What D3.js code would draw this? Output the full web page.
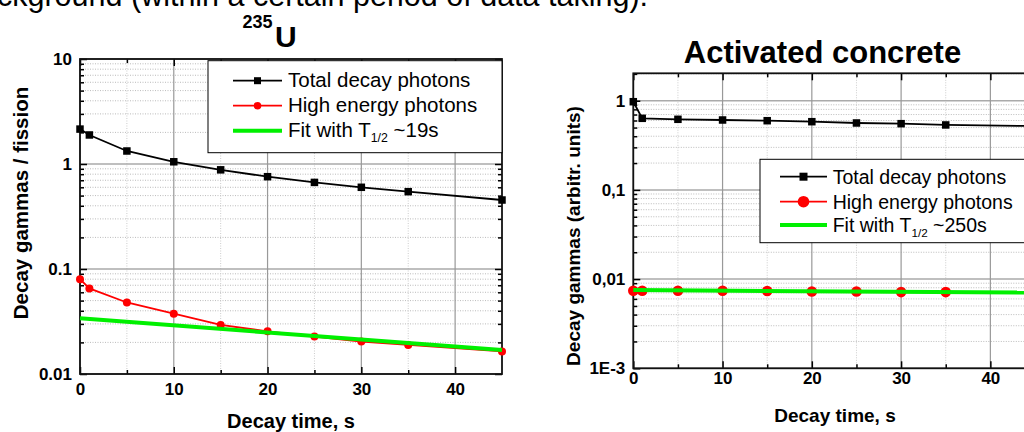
<!DOCTYPE html>
<html>
<head>
<meta charset="utf-8">
<script src="https://cdn.jsdelivr.net/npm/d3@7.9.0/dist/d3.min.js"></script>
<style>
  body { margin: 0; background: #fff; }
  svg { display: block; font-family: Arial, "Liberation Sans", sans-serif; }
</style>
</head>
<body>
<svg id="chart" width="1024" height="432"></svg>
<script>
// ---- data ----
const timeU = [0, 1, 5, 10, 15, 20, 25, 30, 35, 45];
const totalU = [2.15, 1.89, 1.33, 1.05, 0.88, 0.757, 0.668, 0.60, 0.545, 0.454];
const highU = [0.080, 0.0653, 0.048, 0.0375, 0.0293, 0.0255, 0.0227, 0.0204, 0.0189, 0.0164];
const fitTimeU = [0, 45];
const fitU = [0.0339, 0.0169];

const timeC = [0, 1, 5, 10, 15, 20, 25, 30, 35, 45];
const totalC = [0.975, 0.635, 0.619, 0.608, 0.597, 0.582, 0.563, 0.553, 0.535, 0.52];
const highC = [0.0074, 0.0074, 0.0074, 0.0074, 0.00735, 0.00727, 0.00727, 0.00715, 0.00715, 0.0071];
const fitTimeC = [0, 45];
const fitC = [0.00753, 0.00706];

const xTicks = [0, 10, 20, 30, 40];
const xMinorTicks = [5, 15, 25, 35];
const yTicksU = [10, 1, 0.1, 0.01];
const yLabelsU = ["10", "1", "0.1", "0.01"];
const yTicksC = [1, 0.1, 0.01, 0.001];
const yLabelsC = ["1", "0,1", "0,01", "1E-3"];
const legendLabels = ["Total decay photons", "High energy photons", "Fit with T"];

const svg = d3.select("#chart");
const green = "#00f000";

// heading line cut off at the top of the picture
svg.append("text").attr("x", -3).attr("y", 6)
  .attr("font-size", 30.5)
  .text("ckground (within a certain period of data taking):");

function drawPanel(p) {
  const x = d3.scaleLinear().domain([0, 45]).range(p.xr);
  const y = d3.scaleLog().domain(p.yd).range(p.yr);
  const g = svg.append("g");
  const [x0, x1] = p.xr, [y0, y1] = p.yr;

  // minor values of the log axis
  const minors = [];
  p.yTicks.forEach(d => {
    for (let k = 2; k <= 9; k++) {
      const v = d * k;
      if (v > p.yd[0] && v < p.yd[1]) minors.push(v);
    }
  });

  // grid
  g.selectAll(".hmin").data(minors).join("line")
    .attr("x1", x0).attr("x2", x1).attr("y1", d => y(d)).attr("y2", d => y(d))
    .attr("stroke", "#bbb").attr("stroke-width", 1).attr("stroke-dasharray", "1,1.5");
  g.selectAll(".vmin").data(xMinorTicks).join("line")
    .attr("x1", d => x(d)).attr("x2", d => x(d)).attr("y1", y0).attr("y2", y1)
    .attr("stroke", "#ccc").attr("stroke-width", 1).attr("stroke-dasharray", "1,1.5");
  g.selectAll(".hmaj").data(p.yTicks).join("line")
    .attr("x1", x0).attr("x2", x1).attr("y1", d => y(d)).attr("y2", d => y(d))
    .attr("stroke", "#aaa").attr("stroke-width", 1.5);
  g.selectAll(".vmaj").data(xTicks).join("line")
    .attr("x1", d => x(d)).attr("x2", d => x(d)).attr("y1", y0).attr("y2", y1)
    .attr("stroke", "#999").attr("stroke-width", 1.2);

  // axes with inward ticks
  const tickStyle = sel => {
    sel.select(".domain").remove();
    sel.selectAll("line").attr("stroke", "#000").attr("stroke-width", 1.5);
    sel.selectAll("text").attr("font-family", "Arial, 'Liberation Sans', sans-serif")
      .attr("font-size", 17).attr("font-weight", "bold").attr("fill", "#000");
  };
  g.append("g").attr("transform", `translate(${x0},0)`)
    .call(d3.axisLeft(y).tickValues(p.yTicks).tickFormat((d, i) => p.yLabels[i]).tickSize(-7).tickPadding(8))
    .call(tickStyle);
  g.append("g").attr("transform", `translate(${x0},0)`)
    .call(d3.axisLeft(y).tickValues(minors).tickFormat("").tickSize(-4)).call(tickStyle);
  g.append("g").attr("transform", `translate(${x1},0)`)
    .call(d3.axisRight(y).tickValues(p.yTicks).tickFormat("").tickSize(-7)).call(tickStyle);
  g.append("g").attr("transform", `translate(${x1},0)`)
    .call(d3.axisRight(y).tickValues(minors).tickFormat("").tickSize(-4)).call(tickStyle);
  g.append("g").attr("transform", `translate(0,${y0})`)
    .call(d3.axisBottom(x).tickValues(xTicks).tickFormat(d3.format("d")).tickSize(-7).tickPadding(p.xPad))
    .call(tickStyle);
  g.append("g").attr("transform", `translate(0,${y0})`)
    .call(d3.axisBottom(x).tickValues(xMinorTicks).tickFormat("").tickSize(-4)).call(tickStyle);
  g.append("g").attr("transform", `translate(0,${y1})`)
    .call(d3.axisTop(x).tickValues(xTicks).tickFormat("").tickSize(-7)).call(tickStyle);
  g.append("g").attr("transform", `translate(0,${y1})`)
    .call(d3.axisTop(x).tickValues(xMinorTicks).tickFormat("").tickSize(-4)).call(tickStyle);

  // frame
  g.append("rect").attr("x", x0).attr("y", y1).attr("width", x1 - x0).attr("height", y0 - y1)
    .attr("fill", "none").attr("stroke", "#111").attr("stroke-width", 1.8);

  // series
  const line = d3.line().x(d => x(d[0])).y(d => y(d[1]));
  const total = p.time.map((t, i) => [t, p.total[i]]);
  const high = p.time.map((t, i) => [t, p.high[i]]);
  const fit = p.fitTime.map((t, i) => [t, p.fit[i]]);

  g.append("path").datum(total).attr("d", line)
    .attr("fill", "none").attr("stroke", "#000").attr("stroke-width", 1.8);
  g.selectAll(".sq").data(total).join("rect")
    .attr("x", d => x(d[0]) - p.sq / 2).attr("y", d => y(d[1]) - p.sq / 2)
    .attr("width", p.sq).attr("height", p.sq).attr("fill", "#000");
  g.append("path").datum(high).attr("d", line)
    .attr("fill", "none").attr("stroke", "#f00").attr("stroke-width", 1.8);
  g.selectAll(".ci").data(high).join("circle")
    .attr("cx", d => x(d[0])).attr("cy", d => y(d[1])).attr("r", p.r).attr("fill", "#f00");
  g.append("path").datum(fit).attr("d", line)
    .attr("fill", "none").attr("stroke", green).attr("stroke-width", 4);

  // legend
  const L = p.legend;
  g.append("rect").attr("x", L.x).attr("y", L.y).attr("width", L.w).attr("height", L.h)
    .attr("fill", "#fff").attr("stroke", "#000").attr("stroke-width", 1);
  const colors = ["#000", "#f00", green];
  legendLabels.forEach((lab, i) => {
    const cy = L.rows[i];
    g.append("line").attr("x1", L.lx0).attr("x2", L.lx1).attr("y1", cy).attr("y2", cy)
      .attr("stroke", colors[i]).attr("stroke-width", i === 2 ? 4 : 1.8);
    const mx = (L.lx0 + L.lx1) / 2;
    if (i === 0) g.append("rect").attr("x", mx - L.sq / 2).attr("y", cy - L.sq / 2)
      .attr("width", L.sq).attr("height", L.sq).attr("fill", "#000");
    if (i === 1) g.append("circle").attr("cx", mx).attr("cy", cy).attr("r", L.r).attr("fill", "#f00");
    const t = g.append("text").attr("x", L.tx).attr("y", cy + L.base)
      .attr("font-size", L.fs).text(lab);
    if (i === 2) {
      t.append("tspan").attr("font-size", L.fs * 0.6).attr("dy", 5).text("1/2");
      t.append("tspan").attr("dy", -5).text(" " + p.fitLabel);
    }
  });

  // axis titles
  g.append("text").attr("transform", `translate(${p.yt[0]},${p.yt[1]}) rotate(-90)`)
    .attr("text-anchor", "middle").attr("font-weight", "bold").attr("font-size", p.ytFs)
    .text(p.yTitle);
  g.append("text").attr("x", p.xt[0]).attr("y", p.xt[1])
    .attr("text-anchor", "middle").attr("font-weight", "bold").attr("font-size", p.xtFs)
    .text("Decay time, s");
}

drawPanel({
  xr: [80, 502], yr: [374, 59], yd: [0.01, 10],
  yTicks: yTicksU, yLabels: yLabelsU, xPad: 9,
  time: timeU, total: totalU, high: highU, fitTime: fitTimeU, fit: fitU,
  sq: 7.5, r: 4,
  legend: { x: 208, y: 60.7, w: 294, h: 92, rows: [80.7, 105.7, 130.7],
            lx0: 233, lx1: 282, tx: 288, base: 6.5, fs: 20.5, sq: 7, r: 3.8 },
  fitLabel: "~19s",
  yTitle: "Decay gammas / fission", yt: [28, 203], ytFs: 20.5,
  xt: [291, 428], xtFs: 20
});

drawPanel({
  xr: [633.3, 1035], yr: [368.3, 73.3], yd: [0.001, 2.03],
  yTicks: yTicksC, yLabels: yLabelsC, xPad: 3.5,
  time: timeC, total: totalC, high: highC, fitTime: fitTimeC, fit: fitC,
  sq: 7.5, r: 5.3,
  legend: { x: 760, y: 159.3, w: 300, h: 83.4, rows: [176.7, 201.7, 225],
            lx0: 780, lx1: 827, tx: 832.7, base: 7.3, fs: 19.5, sq: 8, r: 5.8 },
  fitLabel: "~250s",
  yTitle: "Decay gammas (arbitr. units)", yt: [580, 236], ytFs: 19,
  xt: [835, 421.6], xtFs: 19
});

// titles
svg.append("text").attr("x", 242.5).attr("y", 28.3)
  .attr("font-weight", "bold").attr("font-size", 18).text("235");
svg.append("text").attr("x", 275).attr("y", 46.7)
  .attr("font-weight", "bold").attr("font-size", 30).text("U");
svg.append("text").attr("x", 822.5).attr("y", 63.3).attr("text-anchor", "middle")
  .attr("font-weight", "bold").attr("font-size", 31).text("Activated concrete");
</script>
</body>
</html>
